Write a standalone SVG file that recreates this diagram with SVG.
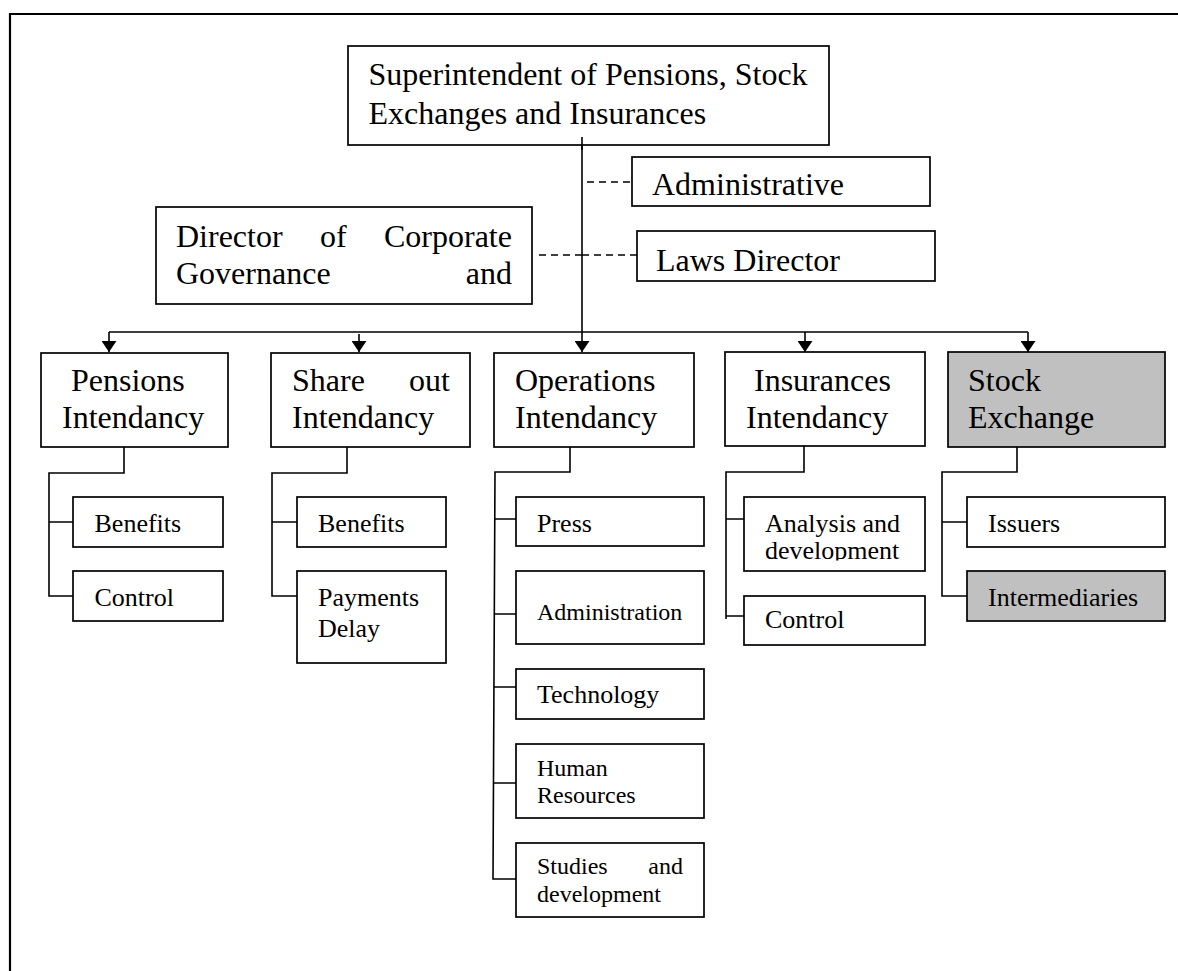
<svg xmlns="http://www.w3.org/2000/svg" width="1178" height="971" viewBox="0 0 1178 971">
<style>
text{font-family:"Liberation Serif","Times New Roman",serif;fill:#000}
.b{fill:#fff;stroke:#000;stroke-width:1.7}
.g{fill:#c0c0c0;stroke:#000;stroke-width:1.7}
.l{font-size:32px}
.m{font-size:26px}
.s{font-size:24px}
.c{fill:none;stroke:#000;stroke-width:1.6}
.d{fill:none;stroke:#000;stroke-width:1.4;stroke-dasharray:7 5}
.f{fill:none;stroke:#000;stroke-width:2.2}
</style>
<defs>
<marker id="ah" viewBox="0 0 11 15" refX="11" refY="7.5" markerWidth="11" markerHeight="15" markerUnits="userSpaceOnUse" orient="auto">
<path d="M0,0 L11,7.5 L0,15 Z" fill="#000"/>
</marker>
<clipPath id="clipA"><rect x="744" y="497" width="181" height="63.5"/></clipPath>
</defs>
<rect width="1178" height="971" fill="#fff"/>
<path class="f" d="M10,971 V14 H1178"/>
<g id="connectors">
<path class="c" d="M582,137 V352" marker-end="url(#ah)"/>
<path class="c" d="M109,332 H1028"/>
<path class="c" d="M109,332 V352" marker-end="url(#ah)"/>
<path class="c" d="M359,334 V352" marker-end="url(#ah)"/>
<path class="c" d="M805,332 V352" marker-end="url(#ah)"/>
<path class="c" d="M1028,332 V352" marker-end="url(#ah)"/>
<path class="d" d="M587,182 H632"/>
<path class="d" d="M582,255 H637"/>
<path class="d" d="M539,255 H582"/>
<path class="c" d="M124,447 V473 H49 V596 H73 M49,522 H73"/>
<path class="c" d="M347,447 V473 H272 V596 H297 M272,522 H297"/>
<path class="c" d="M570,447 V472 H495 L493,879 H516 M494,519 H516 M494,614 H516 M494,687 H516 M493,783 H516"/>
<path class="c" d="M804,446 V472 H726 V619 M726,519 H744 M726,616 H744"/>
<path class="c" d="M1017,447 V472 H942 V596 H967 M942,522 H967"/>
</g>
<g id="superintendent">
<rect class="b" x="348" y="46" width="481" height="99"/>
<text class="l" x="368.5" y="85">Superintendent of Pensions, Stock</text>
<text class="l" x="368.5" y="124">Exchanges and Insurances</text>
</g>
<path class="c" d="M582,137 V150"/>
<g id="administrative">
<rect class="b" x="632" y="157" width="298" height="49"/>
<text class="l" x="652" y="195">Administrative</text>
</g>
<g id="laws-director">
<rect class="b" x="637" y="231" width="298" height="50"/>
<text class="l" x="656" y="271">Laws Director</text>
</g>
<g id="director-corporate">
<rect class="b" x="156" y="207" width="376" height="97"/>
<text class="l" x="176" y="247">Director</text>
<text class="l" x="320" y="247">of</text>
<text class="l" x="384" y="247">Corporate</text>
<text class="l" x="176" y="284">Governance</text>
<text class="l" x="512" y="284" text-anchor="end">and</text>
</g>
<g id="pensions">
<rect class="b" x="41" y="353" width="187" height="94"/>
<text class="l" x="71" y="391">Pensions</text>
<text class="l" x="62" y="428">Intendancy</text>
</g>
<g id="shareout">
<rect class="b" x="271" y="353" width="199" height="94"/>
<text class="l" x="292" y="391">Share</text>
<text class="l" x="450" y="391" text-anchor="end">out</text>
<text class="l" x="292" y="428">Intendancy</text>
</g>
<g id="operations">
<rect class="b" x="494" y="353" width="200" height="94"/>
<text class="l" x="515" y="391">Operations</text>
<text class="l" x="515" y="428">Intendancy</text>
</g>
<g id="insurances">
<rect class="b" x="725" y="352" width="200" height="94"/>
<text class="l" x="754" y="391">Insurances</text>
<text class="l" x="746" y="428">Intendancy</text>
</g>
<g id="stock-exchange">
<rect class="g" x="948" y="352" width="217" height="95"/>
<text class="l" x="968" y="391">Stock</text>
<text class="l" x="968" y="428">Exchange</text>
</g>
<g id="pensions-benefits">
<rect class="b" x="73" y="497" width="150" height="50"/>
<text class="m" x="94.5" y="532">Benefits</text>
</g>
<g id="pensions-control">
<rect class="b" x="73" y="571" width="150" height="50"/>
<text class="m" x="94.5" y="606">Control</text>
</g>
<g id="share-benefits">
<rect class="b" x="297" y="497" width="149" height="50"/>
<text class="m" x="318" y="532">Benefits</text>
</g>
<g id="payments-delay">
<rect class="b" x="297" y="571" width="149" height="92"/>
<text class="m" x="318" y="606">Payments</text>
<text class="m" x="318" y="637">Delay</text>
</g>
<g id="press">
<rect class="b" x="516" y="497" width="188" height="49"/>
<text class="m" x="537" y="532">Press</text>
</g>
<g id="administration">
<rect class="b" x="516" y="571" width="188" height="73"/>
<text class="s" x="537" y="620">Administration</text>
</g>
<g id="technology">
<rect class="b" x="516" y="669" width="188" height="50"/>
<text class="m" x="537" y="703">Technology</text>
</g>
<g id="human-resources">
<rect class="b" x="516" y="744" width="188" height="74"/>
<text class="s" x="537" y="776">Human</text>
<text class="s" x="537" y="803">Resources</text>
</g>
<g id="studies-development">
<rect class="b" x="516" y="843" width="188" height="74"/>
<text class="s" x="537" y="874">Studies</text>
<text class="s" x="683" y="874" text-anchor="end">and</text>
<text class="s" x="537" y="902">development</text>
</g>
<g id="analysis-development">
<rect class="b" x="744" y="497" width="181" height="74"/>
<g clip-path="url(#clipA)">
<text class="m" x="765" y="532">Analysis and</text>
<text class="m" x="765" y="559">development</text>
</g>
</g>
<g id="insurances-control">
<rect class="b" x="744" y="596" width="181" height="49"/>
<text class="m" x="765" y="628">Control</text>
</g>
<g id="issuers">
<rect class="b" x="967" y="497" width="198" height="50"/>
<text class="m" x="988" y="532">Issuers</text>
</g>
<g id="intermediaries">
<rect class="g" x="967" y="571" width="198" height="50"/>
<text class="m" x="988" y="606">Intermediaries</text>
</g>
</svg>
